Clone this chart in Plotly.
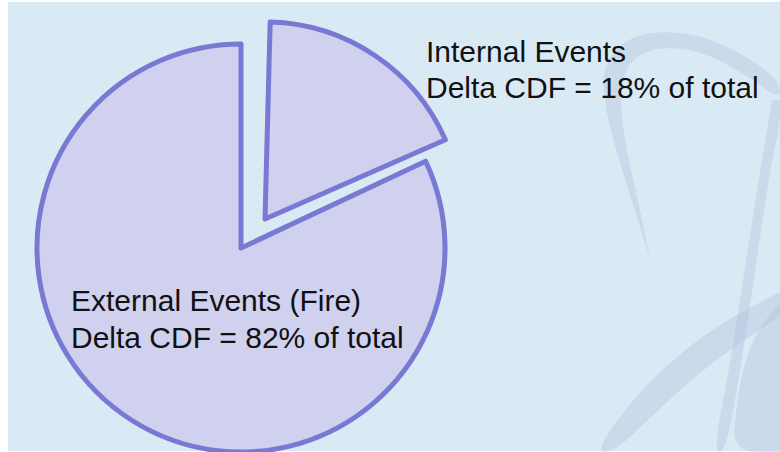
import plotly.graph_objects as go

W, H = 780, 452

# ---- data ----
labels = ["Internal Events", "External Events (Fire)"]
values = [18, 82]
label_lines = [
    ["Internal Events", "Delta CDF = 18% of total"],
    ["External Events (Fire)", "Delta CDF = 82% of total"],
]

FILL = "rgb(208,208,239)"
LINE = "rgb(121,121,212)"
BG = "rgb(218,234,245)"
CLEAR = "rgba(0,0,0,0)"
LW = 5


def px_dom(cx, cy, r):
    return dict(x=[(cx - r) / W, (cx + r) / W], y=[1 - (cy + r) / H, 1 - (cy - r) / H])


def P(x, y):
    return f"{x / W:.5f},{1 - y / H:.5f}"


def smooth_path(pts, close=True):
    s = "M " + P(*pts[0])
    for i in range(1, len(pts) - 1):
        mx = (pts[i][0] + pts[i + 1][0]) / 2
        my = (pts[i][1] + pts[i + 1][1]) / 2
        s += " Q " + P(*pts[i]) + " " + P(mx, my)
    s += " L " + P(*pts[-1])
    if close:
        s += " Z"
    return s


fig = go.Figure()

# main (unpulled) slice
fig.add_trace(go.Pie(
    labels=labels, values=values, sort=False, direction="clockwise", rotation=0,
    marker=dict(colors=[CLEAR, FILL], line=dict(color=LINE, width=[0, LW])),
    textinfo="none", hoverinfo="label+percent", showlegend=False,
    domain=px_dom(241, 248, 204),
))
# exploded slice
fig.add_trace(go.Pie(
    labels=labels, values=values, sort=False, direction="clockwise", rotation=1.5,
    marker=dict(colors=[FILL, CLEAR], line=dict(color=LINE, width=[LW, 0])),
    textinfo="none", hoverinfo="label+percent", showlegend=False,
    domain=px_dom(265, 219, 197),
))

shapes = [
    dict(type="rect", xref="paper", yref="paper", x0=8 / W, x1=1, y0=1 - 451 / H, y1=1 - 2 / H,
         fillcolor=BG, line=dict(width=0), layer="below"),
]
band = "rgba(170,185,215,0.33)"
loop = [(650, 258), (628, 190), (606, 115), (602, 72), (618, 44), (650, 31), (700, 34),
        (750, 58), (780, 82), (780, 100), (748, 76), (700, 50), (656, 47), (630, 60),
        (620, 88), (623, 135), (638, 200), (650, 258)]
vert = [(772, 100), (762, 160), (746, 260), (731, 360), (713, 452), (726, 452), (742, 360),
        (756, 265), (770, 170), (780, 125), (780, 100)]
diag = [(780, 292), (735, 315), (690, 345), (640, 390), (594, 452), (615, 452), (660, 408),
        (705, 368), (745, 340), (780, 316)]
blob = [(780, 303), (760, 325), (745, 360), (736, 405), (733, 452), (780, 452)]
for pts in (loop, vert, diag, blob):
    shapes.append(dict(type="path", xref="paper", yref="paper", path=smooth_path(pts),
                       fillcolor=band, line=dict(width=0), layer="below"))

font = dict(family="Liberation Sans, Arial, sans-serif", size=30, color="#111111")
# (left x, vertical centre) of each text line in pixels
line_pos = [[(424, 51), (424, 88)], [(69, 300), (69, 337)]]
annotations = []
for lines, poss in zip(label_lines, line_pos):
    for txt, (lx, ly) in zip(lines, poss):
        annotations.append(dict(x=lx / W, y=1 - ly / H, xref="paper", yref="paper",
                                xanchor="left", yanchor="middle", text=txt,
                                showarrow=False, align="left", font=font))

fig.update_layout(
    width=W, height=H, margin=dict(l=0, r=0, t=0, b=0),
    paper_bgcolor="white", plot_bgcolor="white",
    shapes=shapes, annotations=annotations, showlegend=False,
)

fig.write_html("out.html")
